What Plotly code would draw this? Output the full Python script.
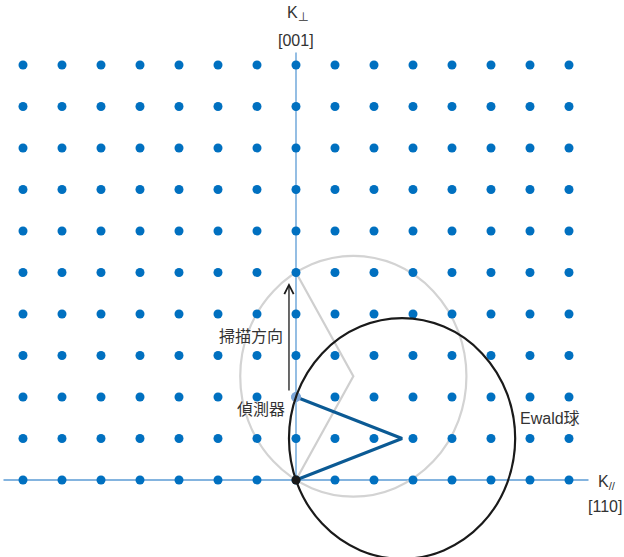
import plotly.graph_objects as go

# ---- data ----
lattice_x = list(range(-7, 8))          # reciprocal lattice columns (K// index)
lattice_y = list(range(0, 11))          # reciprocal lattice rows (K⊥ index)
k_radius = 2.9                           # Ewald sphere radius
gray_center = [1.47, 2.5]                # earlier Ewald sphere centre (scan position)
ewald_center = [2.72, 1.0]               # current Ewald sphere centre
origin = [0, 0]
detector = [0, 2]
scan_top = [0, 5]
axis_len_x = 7.5
axis_len_y = 10.3

FONT = "Liberation Sans, Arial, Noto Sans CJK TC, sans-serif"
TXT = "#333333"

fig = go.Figure()

# axes lines
fig.add_shape(type="line", x0=-axis_len_x, x1=axis_len_x, y0=0, y1=0,
              line=dict(color="#5b9bd5", width=1.3), layer="below")
fig.add_shape(type="line", x0=0, x1=0, y0=0, y1=axis_len_y,
              line=dict(color="#5b9bd5", width=1.3), layer="below")

# circles (drawn in data units)
fig.add_shape(type="circle",
              x0=gray_center[0] - k_radius, x1=gray_center[0] + k_radius,
              y0=gray_center[1] - k_radius, y1=gray_center[1] + k_radius,
              line=dict(color="#d3d3d3", width=2.2), layer="below")
fig.add_shape(type="circle",
              x0=ewald_center[0] - k_radius, x1=ewald_center[0] + k_radius,
              y0=ewald_center[1] - k_radius, y1=ewald_center[1] + k_radius,
              line=dict(color="#1a1a1a", width=2.2), layer="above")

# gray k-vectors
fig.add_trace(go.Scatter(x=[origin[0], gray_center[0], scan_top[0]],
                         y=[origin[1], gray_center[1], scan_top[1]],
                         mode="lines", line=dict(color="#cfcfcf", width=2.2),
                         hoverinfo="skip", showlegend=False))

# lattice dots
xs, ys = [], []
for yy in lattice_y:
    for xx in lattice_x:
        xs.append(xx)
        ys.append(yy)
fig.add_trace(go.Scatter(x=xs, y=ys, mode="markers",
                         marker=dict(color="#0070c0", size=9),
                         hoverinfo="skip", showlegend=False))

# blue k-vectors
fig.add_trace(go.Scatter(x=[origin[0], ewald_center[0], detector[0]],
                         y=[origin[1], ewald_center[1], detector[1]],
                         mode="lines", line=dict(color="#0b5a94", width=3),
                         hoverinfo="skip", showlegend=False))

# detector and origin dots
fig.add_trace(go.Scatter(x=[detector[0]], y=[detector[1]], mode="markers",
                         marker=dict(color="#7ea6d8", size=10),
                         hoverinfo="skip", showlegend=False))
fig.add_trace(go.Scatter(x=[origin[0]], y=[origin[1]], mode="markers",
                         marker=dict(color="#1a1a1a", size=9),
                         hoverinfo="skip", showlegend=False))

# scan direction arrow
fig.add_annotation(x=-0.18, y=4.75, ax=-0.18, ay=2.12, xref="x", yref="y",
                   axref="x", ayref="y", text="", showarrow=True,
                   arrowhead=5, arrowsize=1.4, arrowwidth=1.3, arrowcolor="#1a1a1a")

# text labels
def label(x, y, text, xanchor="center", size=16):
    fig.add_annotation(x=x, y=y, xref="x", yref="y", text=text, showarrow=False,
                       xanchor=xanchor, yanchor="middle",
                       font=dict(family=FONT, size=size, color=TXT))

label(0.05, 11.25, "K<sub>⊥</sub>")
label(0, 10.6, "[001]")
label(7.68, -0.05, "K<sub>//</sub>", xanchor="left")
label(7.92, -0.65, "[110]")
label(-0.28, 3.47, "掃描方向", xanchor="right")
label(-0.23, 1.69, "偵測器", xanchor="right")
label(5.69, 1.49, "Ewald球", xanchor="left")

fig.update_layout(
    width=624, height=557,
    margin=dict(l=0, r=0, t=0, b=0),
    paper_bgcolor="white", plot_bgcolor="white",
    xaxis=dict(range=[-296 / 39, 328 / 39], visible=False, fixedrange=True),
    yaxis=dict(range=[-77 / 41.5, 480 / 41.5], visible=False, fixedrange=True),
    showlegend=False,
)

fig.write_html("out.html")
